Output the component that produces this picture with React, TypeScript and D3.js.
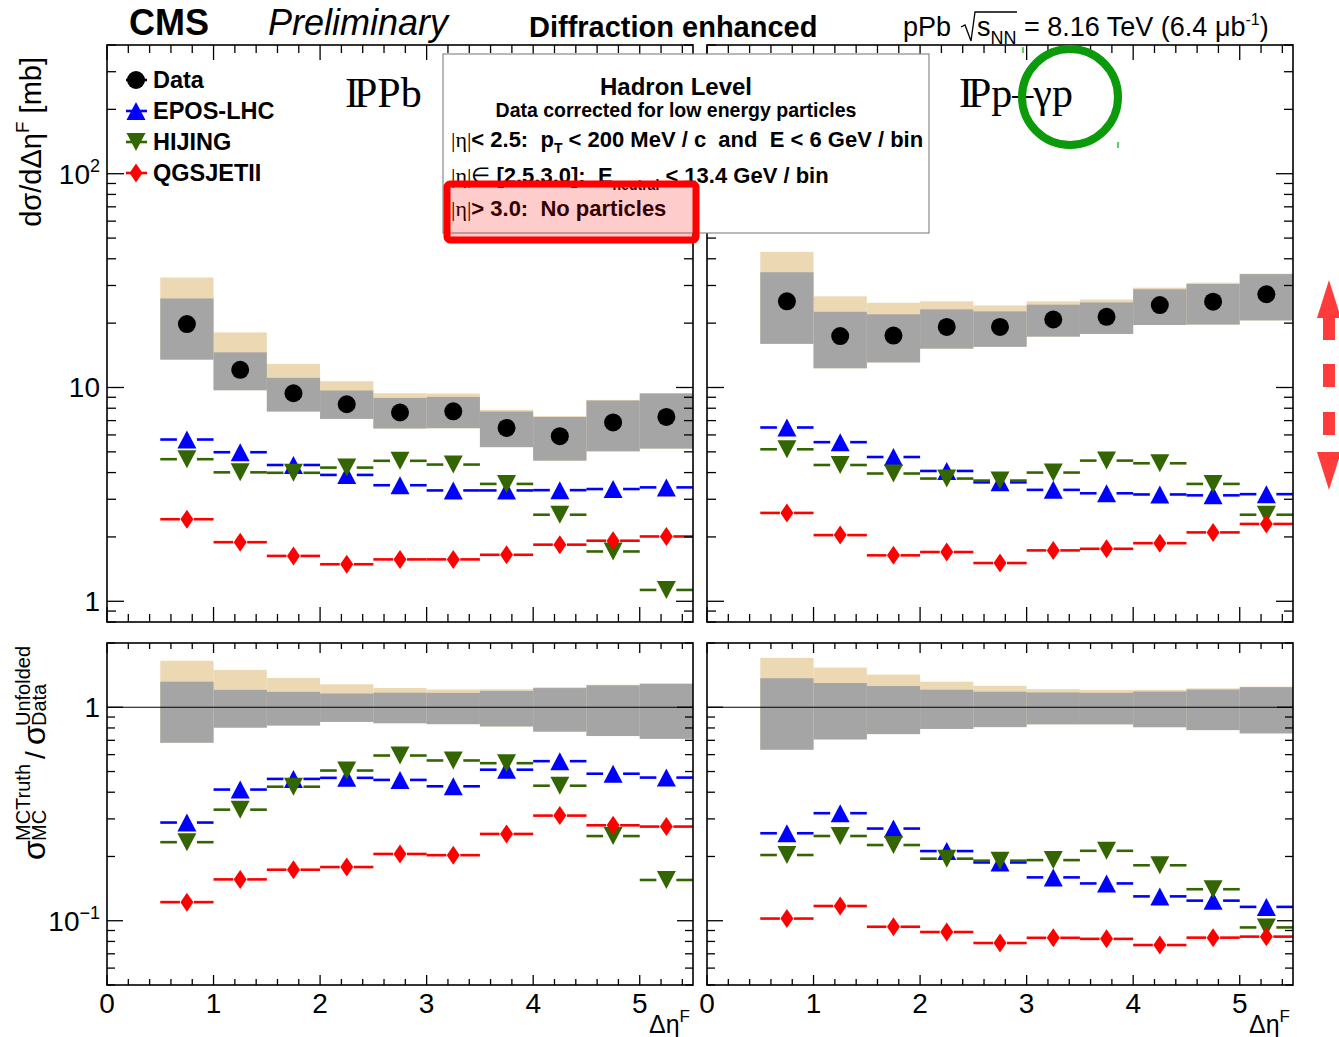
import React from "react";
import * as d3 from "d3";

// Δη^F bin edges: ten bins of width 0.5
const binEdges = [0.5, 1.0, 1.5, 2.0, 2.5, 3.0, 3.5, 4.0, 4.5, 5.0, 5.5];

// IPPb topology: unfolded data [mb] and its uncertainty bands
const ppbData = [19.8, 12.1, 9.4, 8.35, 7.64, 7.74, 6.47, 5.92, 6.86, 7.28];
const ppbBandLow = [13.5, 9.71, 7.72, 7.13, 6.43, 6.45, 5.26, 4.55, 5.03, 5.18];
const ppbBandHigh = [26.1, 14.6, 11.1, 9.68, 8.94, 9.04, 7.72, 7.28, 8.69, 9.37];
const ppbBandModel = [32.7, 18.1, 12.9, 10.7, 9.4, 9.37, 7.86, 7.34, 8.75, 9.42];

// IPPb topology: generator predictions [mb]
const ppbEpos = [5.71, 4.98, 4.34, 3.9, 3.49, 3.3, 3.3, 3.31, 3.35, 3.41];
const ppbHijing = [4.62, 4.01, 3.99, 4.22, 4.54, 4.36, 3.54, 2.54, 1.71, 1.13];
const ppbQgsjet = [2.42, 1.89, 1.63, 1.49, 1.57, 1.57, 1.65, 1.84, 1.92, 2.01];

// IPp–γp topology: unfolded data [mb] and its uncertainty bands
const ppData = [25.3, 17.4, 17.5, 19.2, 19.2, 20.8, 21.4, 24.3, 25.2, 27.3];
const ppBandLow = [16.0, 12.3, 13.1, 15.2, 15.5, 17.3, 17.8, 19.6, 19.7, 20.6];
const ppBandHigh = [34.6, 22.6, 22.0, 23.2, 22.7, 24.4, 25.0, 28.8, 30.5, 33.9];
const ppBandModel = [43.1, 26.7, 24.9, 25.3, 24.2, 25.3, 25.8, 29.3, 30.9, 34.1];

// IPp–γp topology: generator predictions [mb]
const ppEpos = [6.5, 5.55, 4.73, 4.07, 3.6, 3.32, 3.2, 3.16, 3.13, 3.17];
const ppHijing = [5.14, 4.34, 3.96, 3.75, 3.67, 4.0, 4.55, 4.42, 3.54, 2.54];
const ppQgsjet = [2.59, 2.04, 1.64, 1.7, 1.51, 1.73, 1.76, 1.87, 2.1, 2.3];

// Axis labels
const xTickLabels = [0, 1, 2, 3, 4, 5];
const xDomain = [0, 5.5];
const xsecDomain = [0.8, 400];
const ratioDomain = [0.05, 2];
const xsecYLabels = [
  { v: 1, text: "1", exp: "" },
  { v: 10, text: "10", exp: "" },
  { v: 100, text: "10", exp: "2" },
];
const ratioYLabels = [
  { v: 0.1, text: "10", exp: "\u22121" },
  { v: 1, text: "1", exp: "" },
];
const legendLabels = ["Data", "EPOS-LHC", "HIJING", "QGSJETII"];

const W = 1339;
const H = 1037;
const SANS = "'Liberation Sans', Arial, Helvetica, sans-serif";
const SERIF = "'Liberation Serif', 'Times New Roman', serif";

const GREY = "#a5a5a5";
const BEIGE = "#ecd9b4";

type Shape = "circle" | "up" | "down" | "diamond";

const modelStyles: { color: string; shape: Shape; gap: number }[] = [
  { color: "#0000ff", shape: "up", gap: 10 },
  { color: "#336600", shape: "down", gap: 10 },
  { color: "#ff0000", shape: "diamond", gap: 7 },
];

function Marker({ shape, x, y, color }: { shape: Shape; x: number; y: number; color: string }) {
  if (shape === "circle") return <circle cx={x} cy={y} r={9} fill={color} />;
  let d = "";
  if (shape === "up") d = `M${x - 9.5},${y + 9}L${x + 9.5},${y + 9}L${x},${y - 9}Z`;
  if (shape === "down") d = `M${x - 9.5},${y - 9}L${x + 9.5},${y - 9}L${x},${y + 9}Z`;
  if (shape === "diamond") d = `M${x},${y - 9.5}L${x + 6.5},${y}L${x},${y + 9.5}L${x - 6.5},${y}Z`;
  return <path d={d} fill={color} />;
}

type PanelProps = {
  x0: number;
  x1: number;
  y0: number;
  y1: number;
  domain: number[];
  ratio: boolean;
  data: number[];
  bandLow: number[];
  bandHigh: number[];
  bandModel: number[];
  models: number[][];
  yLabels?: { v: number; text: string; exp: string }[];
  xLabels: boolean;
};

function Panel(p: PanelProps) {
  const x = d3.scaleLinear().domain(xDomain).range([p.x0, p.x1]);
  const y = d3.scaleLog().domain(p.domain).range([p.y1, p.y0]);
  const rel = (arr: number[]) => (p.ratio ? arr.map((v, i) => v / p.data[i]) : arr);
  const lo = rel(p.bandLow);
  const hi = rel(p.bandHigh);
  const md = rel(p.bandModel);
  const dv = rel(p.data);
  const bins = d3.range(binEdges.length - 1).map((i) => ({
    lo: binEdges[i],
    hi: binEdges[i + 1],
    c: (binEdges[i] + binEdges[i + 1]) / 2,
  }));
  const yt = y.ticks().filter((v) => v >= p.domain[0] * 0.999 && v <= p.domain[1] * 1.001);
  const isMajor = (v: number) => Math.abs(Math.log10(v) - Math.round(Math.log10(v))) < 1e-6;
  const xt = d3.range(0, 28).map((k) => ({ v: k * 0.2, major: k % 5 === 0 }));
  const yMaj = p.ratio ? 16 : 17;
  const yMin = p.ratio ? 8 : 9;
  const xMaj = p.ratio ? 10 : 15;
  const xMin = p.ratio ? 6 : 8;

  return (
    <g>
      {/* uncertainty bands */}
      {bins.map((b, i) => (
        <rect
          key={"m" + i}
          x={x(b.lo)}
          width={x(b.hi) - x(b.lo)}
          y={y(md[i])}
          height={y(lo[i]) - y(md[i])}
          fill={BEIGE}
        />
      ))}
      {bins.map((b, i) => (
        <rect
          key={"g" + i}
          x={x(b.lo)}
          width={x(b.hi) - x(b.lo)}
          y={y(hi[i])}
          height={y(lo[i]) - y(hi[i])}
          fill={GREY}
        />
      ))}
      {p.ratio ? (
        <line x1={p.x0} x2={p.x1} y1={y(1)} y2={y(1)} stroke="#000" strokeWidth={1.2} />
      ) : (
        bins.map((b, i) => <Marker key={"d" + i} shape="circle" x={x(b.c)} y={y(dv[i])} color="#000" />)
      )}
      {/* generator predictions */}
      {p.models.map((vals, m) => {
        const st = modelStyles[m];
        const rv = rel(vals);
        return (
          <g key={"mc" + m}>
            {bins.map((b, i) => {
              const yy = y(rv[i]);
              const xc = x(b.c);
              return (
                <g key={i}>
                  <line x1={x(b.lo)} x2={xc - st.gap} y1={yy} y2={yy} stroke={st.color} strokeWidth={2.6} />
                  <line x1={xc + st.gap} x2={x(b.hi)} y1={yy} y2={yy} stroke={st.color} strokeWidth={2.6} />
                  <Marker shape={st.shape} x={xc} y={yy} color={st.color} />
                </g>
              );
            })}
          </g>
        );
      })}
      {/* frame and ticks */}
      <rect x={p.x0} y={p.y0} width={p.x1 - p.x0} height={p.y1 - p.y0} fill="none" stroke="#000" strokeWidth={1.6} />
      {yt.map((v, i) => {
        const L = isMajor(v) ? yMaj : yMin;
        const yy = y(v);
        return (
          <g key={"yt" + i} stroke="#000" strokeWidth={1.3}>
            <line x1={p.x0} x2={p.x0 + L} y1={yy} y2={yy} />
            <line x1={p.x1} x2={p.x1 - L} y1={yy} y2={yy} />
          </g>
        );
      })}
      {xt.map((t, i) => {
        const L = t.major ? xMaj : xMin;
        const xx = x(t.v);
        return (
          <g key={"xt" + i} stroke="#000" strokeWidth={1.3}>
            <line x1={xx} x2={xx} y1={p.y1} y2={p.y1 - L} />
            <line x1={xx} x2={xx} y1={p.y0} y2={p.y0 + L} />
          </g>
        );
      })}
      {p.yLabels &&
        p.yLabels.map((l, i) => (
          <text key={"yl" + i} x={p.x0 - 7} y={y(l.v) + 10} fontSize={28} textAnchor="end">
            {l.text}
            {l.exp && (
              <tspan dy={-12} fontSize={18}>
                {l.exp}
              </tspan>
            )}
          </text>
        ))}
      {p.xLabels && (
        <g>
          {xTickLabels.map((v) => (
            <text key={"xl" + v} x={x(v)} y={1013} fontSize={28} textAnchor="middle">
              {v}
            </text>
          ))}
          <text x={p.x1 - 3} y={1033} fontSize={25} textAnchor="end">
            Δη
            <tspan dy={-11} fontSize={17}>
              F
            </tspan>
          </text>
        </g>
      )}
    </g>
  );
}

function Legend() {
  const rows = [
    { shape: "circle" as Shape, color: "#000" },
    ...modelStyles.map((s) => ({ shape: s.shape, color: s.color })),
  ];
  return (
    <g>
      {legendLabels.map((lab, i) => {
        const cy = 80 + i * 31;
        return (
          <g key={lab}>
            <line x1={126} x2={147} y1={cy} y2={cy} stroke={rows[i].color} strokeWidth={2.6} />
            <Marker shape={rows[i].shape} x={136} y={cy} color={rows[i].color} />
            <text x={153} y={cy + 7.5} fontSize={23.5} fontWeight="bold">
              {lab}
            </text>
          </g>
        );
      })}
    </g>
  );
}

export default function App() {
  const colL = { x0: 107, x1: 693 };
  const colR = { x0: 707, x1: 1293 };
  const top = { y0: 45, y1: 622 };
  const bot = { y0: 643, y1: 985 };
  return (
    <svg
      width={W}
      height={H}
      viewBox={`0 0 ${W} ${H}`}
      style={{ position: "absolute", left: 0, top: 0, background: "#fff" }}
      fontFamily={SANS}
    >
      <rect width={W} height={H} fill="#fff" />

      <Panel
        {...colL}
        {...top}
        domain={xsecDomain}
        ratio={false}
        data={ppbData}
        bandLow={ppbBandLow}
        bandHigh={ppbBandHigh}
        bandModel={ppbBandModel}
        models={[ppbEpos, ppbHijing, ppbQgsjet]}
        yLabels={xsecYLabels}
        xLabels={false}
      />
      <Panel
        {...colR}
        {...top}
        domain={xsecDomain}
        ratio={false}
        data={ppData}
        bandLow={ppBandLow}
        bandHigh={ppBandHigh}
        bandModel={ppBandModel}
        models={[ppEpos, ppHijing, ppQgsjet]}
        xLabels={false}
      />
      <Panel
        {...colL}
        {...bot}
        domain={ratioDomain}
        ratio={true}
        data={ppbData}
        bandLow={ppbBandLow}
        bandHigh={ppbBandHigh}
        bandModel={ppbBandModel}
        models={[ppbEpos, ppbHijing, ppbQgsjet]}
        yLabels={ratioYLabels}
        xLabels={true}
      />
      <Panel
        {...colR}
        {...bot}
        domain={ratioDomain}
        ratio={true}
        data={ppData}
        bandLow={ppBandLow}
        bandHigh={ppBandHigh}
        bandModel={ppBandModel}
        models={[ppEpos, ppHijing, ppQgsjet]}
        xLabels={true}
      />

      {/* y-axis titles */}
      <text transform="translate(41,57) rotate(-90)" fontSize={29} textAnchor="end" xmlSpace="preserve">
        dσ/dΔη
        <tspan dy={-12} fontSize={19}>
          F
        </tspan>
        <tspan dy={12}>{" [mb]"}</tspan>
      </text>
      <g transform="translate(45,860) rotate(-90)">
        <text x={0} y={0} fontSize={32}>
          σ
        </text>
        <text x={19} y={1} fontSize={20}>
          MC
        </text>
        <text x={19} y={-15} fontSize={20}>
          MCTruth
        </text>
        <text x={101} y={0} fontSize={28}>
          /
        </text>
        <text x={115} y={0} fontSize={32}>
          σ
        </text>
        <text x={134} y={1} fontSize={20}>
          Data
        </text>
        <text x={134} y={-15} fontSize={20}>
          Unfolded
        </text>
      </g>

      {/* header */}
      <text x={129} y={35} fontSize={36} fontWeight="bold">
        CMS
      </text>
      <text x={268} y={35} fontSize={36} fontStyle="italic">
        Preliminary
      </text>
      <text x={529} y={37} fontSize={29} fontWeight="bold">
        Diffraction enhanced
      </text>
      <text x={903} y={36} fontSize={27}>
        pPb
      </text>
      <path d="M961,27 L965,25 L971,41 L975,12 L1017,12" fill="none" stroke="#000" strokeWidth={1.3} />
      <text x={977} y={36} fontSize={27} xmlSpace="preserve">
        s
        <tspan dy={8} fontSize={18}>
          NN
        </tspan>
        <tspan dy={-8} fontSize={27}>
          {" = 8.16 TeV (6.4 μb"}
        </tspan>
        <tspan dy={-11} fontSize={16}>
          -1
        </tspan>
        <tspan dy={11} fontSize={27}>
          )
        </tspan>
      </text>

      <Legend />

      {/* topology labels */}
      <g fontFamily={SERIF} fontSize={42}>
        <text x={345} y={107}>
          I<tspan dx={-5}>PPb</tspan>
        </text>
        <text x={959} y={107}>
          I<tspan dx={-5}>Pp–γp</tspan>
        </text>
      </g>

      {/* selection box */}
      <rect x={443} y={54} width={486} height={179} fill="#fff" stroke="#8a8a8a" strokeWidth={1.2} />
      <g fontWeight="bold">
        <text x={676} y={95} fontSize={24} textAnchor="middle">
          Hadron Level
        </text>
        <text x={676} y={117} fontSize={19.5} textAnchor="middle">
          Data corrected for low energy particles
        </text>
        <text x={451} y={147} fontSize={22} xmlSpace="preserve">
          <tspan fontFamily={SERIF} fontWeight="normal">
            |η|
          </tspan>
          <tspan>{"< 2.5:  p"}</tspan>
          <tspan dy={6} fontSize={14}>
            T
          </tspan>
          <tspan dy={-6}>{" < 200 MeV / c  and  E < 6 GeV / bin"}</tspan>
        </text>
        <text x={451} y={183} fontSize={22} xmlSpace="preserve">
          <tspan fontFamily={SERIF} fontWeight="normal">
            |η|∈
          </tspan>
          <tspan>{" [2.5,3.0]:  E"}</tspan>
          <tspan dy={7} fontSize={14}>
            neutral
          </tspan>
          <tspan dy={-7}>{" < 13.4 GeV / bin"}</tspan>
        </text>
        <text x={451} y={216} fontSize={22} xmlSpace="preserve">
          <tspan fontFamily={SERIF} fontWeight="normal">
            |η|
          </tspan>
          <tspan>{"> 3.0:  No particles"}</tspan>
        </text>
      </g>
      <rect
        x={447}
        y={184}
        width={249}
        height={56}
        rx={3}
        fill="rgba(255,0,0,0.2)"
        stroke="#ff0000"
        strokeWidth={7}
      />

      {/* highlight circle */}
      <circle cx={1070} cy={97} r={48} fill="none" stroke="#0a9a0a" strokeWidth={8} />
      <line x1={1023} x2={1023} y1={47} y2={53} stroke="#33bb33" strokeWidth={1.5} />
      <line x1={1118} x2={1118} y1={142} y2={148} stroke="#33bb33" strokeWidth={1.5} />

      {/* double-headed dashed arrow */}
      <g fill="#ff3b3b">
        <path d="M1329,280 L1341,318 L1317,318 Z" />
        <rect x={1323} y={318} width={12} height={22} />
        <rect x={1323} y={364} width={12} height={23} />
        <rect x={1323} y={412} width={12} height={23} />
        <path d="M1317,452 L1341,452 L1329,490 Z" />
      </g>
    </svg>
  );
}
